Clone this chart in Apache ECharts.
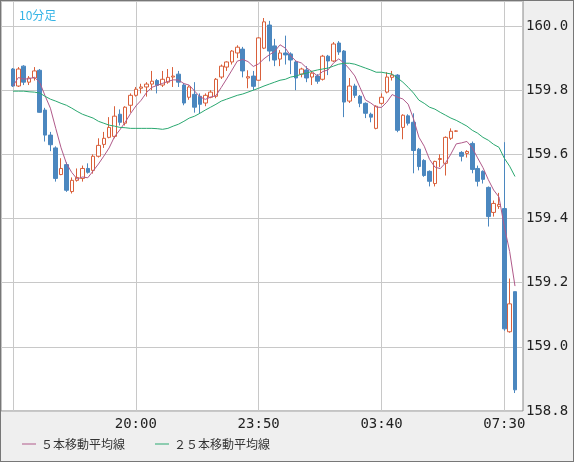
<!DOCTYPE html>
<html>
<head>
<meta charset="utf-8">
<script src="https://cdn.jsdelivr.net/npm/echarts@6/dist/echarts.min.js"></script>
<style>
  html,body{margin:0;padding:0;background:#efefef}
  #chart{width:572px;height:460px;border:1px solid #777}
</style>
</head>
<body>
<div id="chart"></div>
<script>
// 10-minute bars: [open, close, low, high]
const ohlc = [
  [159.866,159.813,159.810,159.869],[159.813,159.866,159.810,159.872],[159.875,159.825,159.816,159.878],
  [159.825,159.838,159.816,159.844],[159.838,159.860,159.830,159.872],[159.862,159.731,159.730,159.866],
  [159.738,159.660,159.640,159.745],[159.660,159.630,159.610,159.670],[159.620,159.525,159.515,159.625],
  [159.537,159.556,159.535,159.588],[159.568,159.488,159.483,159.575],[159.484,159.519,159.478,159.528],
  [159.519,159.528,159.515,159.556],[159.525,159.556,159.515,159.565],[159.556,159.544,159.540,159.572],
  [159.550,159.594,159.540,159.600],[159.594,159.628,159.590,159.650],[159.631,159.650,159.620,159.670],
  [159.653,159.684,159.650,159.716],[159.656,159.719,159.650,159.750],[159.725,159.700,159.690,159.740],
  [159.697,159.747,159.690,159.750],[159.753,159.784,159.730,159.790],[159.784,159.803,159.780,159.810],
  [159.806,159.810,159.790,159.820],[159.810,159.819,159.780,159.825],[159.819,159.828,159.800,159.860],
  [159.830,159.815,159.790,159.835],[159.816,159.834,159.810,159.860],[159.825,159.840,159.820,159.866],
  [159.841,159.844,159.810,159.872],[159.850,159.825,159.810,159.860],[159.816,159.760,159.753,159.822],
  [159.778,159.810,159.770,159.815],[159.787,159.747,159.730,159.825],[159.781,159.756,159.728,159.790],
  [159.760,159.784,159.750,159.790],[159.778,159.794,159.775,159.800],[159.781,159.834,159.775,159.838],
  [159.841,159.875,159.835,159.880],[159.872,159.888,159.860,159.890],[159.888,159.922,159.880,159.925],
  [159.916,159.934,159.900,159.940],[159.928,159.860,159.840,159.935],[159.838,159.842,159.806,159.862],
  [159.844,159.812,159.800,159.860],[159.831,159.963,159.830,159.965],[159.931,160.013,159.928,160.025],
  [160.003,159.922,159.890,160.016],[159.938,159.894,159.875,159.960],[159.897,159.916,159.875,159.925],
  [159.916,159.910,159.880,159.970],[159.913,159.894,159.850,159.918],[159.888,159.838,159.800,159.892],
  [159.850,159.866,159.840,159.870],[159.863,159.838,159.825,159.875],[159.841,159.853,159.816,159.860],
  [159.844,159.828,159.820,159.850],[159.834,159.906,159.830,159.910],[159.906,159.891,159.847,159.910],
  [159.891,159.944,159.888,159.950],[159.947,159.919,159.910,159.953],[159.922,159.763,159.716,159.925],
  [159.766,159.813,159.760,159.838],[159.813,159.784,159.776,159.820],[159.781,159.759,159.747,159.785],
  [159.759,159.728,159.713,159.762],[159.725,159.716,159.700,159.730],[159.681,159.750,159.678,159.753],
  [159.759,159.778,159.755,159.790],[159.794,159.841,159.790,159.856],[159.840,159.847,159.830,159.860],
  [159.847,159.675,159.669,159.850],[159.684,159.722,159.647,159.725],[159.720,159.697,159.690,159.725],
  [159.700,159.612,159.541,159.728],[159.616,159.562,159.550,159.620],[159.581,159.534,159.530,159.585],
  [159.547,159.516,159.500,159.550],[159.509,159.578,159.500,159.580],[159.584,159.587,159.560,159.600],
  [159.572,159.653,159.534,159.656],[159.650,159.672,159.645,159.681],[159.672,159.673,159.670,159.675],
  [159.606,159.594,159.578,159.610],[159.603,159.609,159.590,159.613],[159.634,159.553,159.541,159.640],
  [159.556,159.516,159.500,159.565],[159.547,159.522,159.509,159.550],[159.497,159.406,159.375,159.500],
  [159.419,159.447,159.406,159.456],[159.438,159.444,159.430,159.480],[159.431,159.056,159.050,159.638],
  [159.047,159.134,159.044,159.213],[159.172,158.866,158.856,159.172]
];
// 25-bar moving average
const ma25 = [
  159.797,159.797,159.797,159.795,159.794,159.791,159.781,159.772,159.766,159.759,
  159.753,159.744,159.734,159.725,159.719,159.713,159.703,159.697,159.691,159.688,
  159.684,159.683,159.681,159.681,159.681,159.681,159.681,159.680,159.678,159.681,
  159.688,159.694,159.703,159.713,159.719,159.728,159.738,159.747,159.756,159.766,
  159.772,159.778,159.784,159.788,159.794,159.800,159.806,159.813,159.819,159.825,
  159.831,159.834,159.841,159.844,159.850,159.853,159.859,159.863,159.866,159.869,
  159.875,159.881,159.884,159.884,159.881,159.875,159.869,159.863,159.856,159.856,
  159.853,159.850,159.838,159.825,159.809,159.791,159.769,159.759,159.747,159.741,
  159.731,159.722,159.713,159.706,159.697,159.688,159.675,159.666,159.653,159.644,
  159.631,159.622,159.588,159.563,159.531
];
const timeTicks = [0,23,46,69,92];
const timeLabels = {23:'20:00',46:'23:50',69:'03:40',92:'07:30'};

const candles = ohlc.map((d,i)=>[i].concat(d));
const ma5 = ohlc.map((d,i)=>{
  const s = ohlc.slice(Math.max(0,i-4),i+1);
  return [i, s.reduce((a,b)=>a+b[1],0)/s.length];
});
const ma25pts = ma25.map((v,i)=>[i,v]);

const chart = echarts.init(document.getElementById('chart'));
chart.setOption({
  animation:false,
  backgroundColor:'#efefef',
  title:{text:'10分足',left:13,top:3,textStyle:{color:'#35b4e6',fontSize:12,fontWeight:'normal',fontFamily:'Noto Sans CJK JP'}},
  legend:{
    left:16,bottom:6,itemGap:30,itemWidth:14,itemHeight:1,icon:'rect',
    textStyle:{fontSize:12,color:'#333',fontFamily:'Noto Sans CJK JP'},
    data:['５本移動平均線','２５本移動平均線']
  },
  grid:{left:0,right:50,top:0,bottom:50,show:true,backgroundColor:'#fff',borderColor:'#888',borderWidth:1},
  xAxis:{
    type:'value',min:-2.25,max:95.5,
    axisLine:{show:false},axisTick:{show:false},
    axisLabel:{customValues:[23,46,69,92],formatter:v=>timeLabels[v]||'',color:'#222',fontSize:14,fontFamily:'DejaVu Sans Mono',margin:6},
    splitLine:{show:false}
  },
  yAxis:{
    type:'value',position:'right',min:158.8,max:160.078,interval:0.2,
    axisLine:{show:false},axisTick:{show:false},
    axisLabel:{formatter:v=>(v>160.05?'':v.toFixed(1)),color:'#222',fontSize:14,fontFamily:'DejaVu Sans Mono',margin:3},
    splitLine:{show:true,lineStyle:{color:'#c8c8c8'}}
  },
  series:[
    {type:'candlestick',data:candles,barWidth:4,
      itemStyle:{color:'#ffffff',color0:'#4b87bf',borderColor:'#d9603b',borderColor0:'#4b87bf',borderWidth:1},
      markLine:{silent:true,symbol:'none',label:{show:false},animation:false,z:0,
        lineStyle:{color:'#c8c8c8',type:'solid',width:1},
        data:timeTicks.map(v=>({xAxis:v}))}},
    {name:'５本移動平均線',type:'line',data:ma5,showSymbol:false,lineStyle:{color:'#b05a8a',width:1},itemStyle:{color:'#b05a8a'}},
    {name:'２５本移動平均線',type:'line',data:ma25pts,showSymbol:false,lineStyle:{color:'#2aa870',width:1},itemStyle:{color:'#2aa870'}}
  ]
});
</script>
</body>
</html>
